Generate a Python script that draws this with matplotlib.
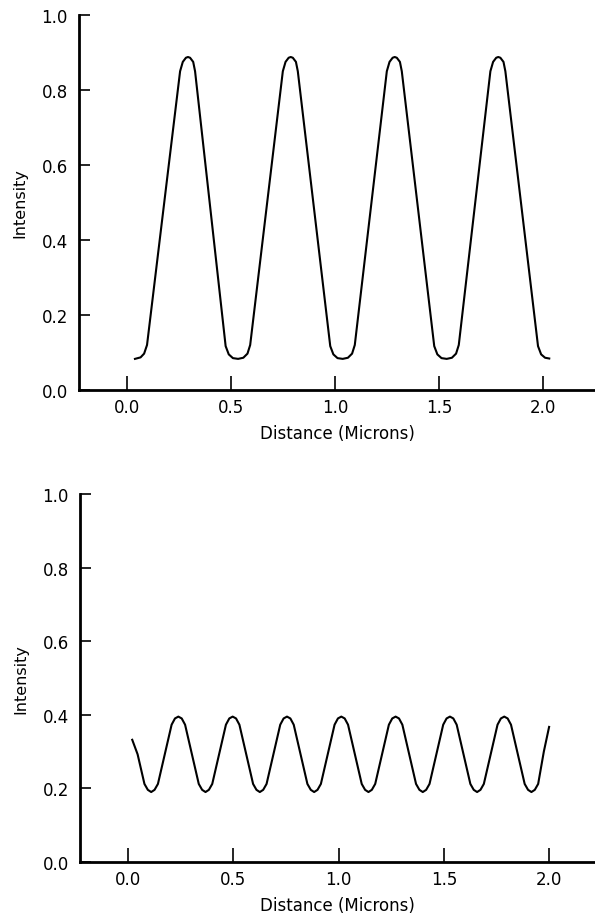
import matplotlib
matplotlib.use("Agg")
import matplotlib.pyplot as plt

# top panel: intensity profile, period ~0.5 micron
top_x = [0.038, 0.065, 0.082, 0.096,
         0.255, 0.268, 0.283, 0.293, 0.303, 0.318, 0.327,
         0.474, 0.489, 0.509, 0.534, 0.559, 0.579, 0.592,
         0.749, 0.762, 0.777, 0.787, 0.797, 0.812, 0.821,
         0.977, 0.992, 1.012, 1.037, 1.062, 1.082, 1.095,
         1.249, 1.262, 1.277, 1.287, 1.297, 1.312, 1.321,
         1.477, 1.492, 1.512, 1.537, 1.562, 1.582, 1.595,
         1.747, 1.760, 1.775, 1.785, 1.795, 1.810, 1.819,
         1.976, 1.991, 2.010, 2.030]
top_y = [0.083, 0.087, 0.097, 0.120,
         0.850, 0.875, 0.886, 0.888, 0.886, 0.875, 0.850,
         0.117, 0.095, 0.085, 0.083, 0.086, 0.097, 0.120,
         0.850, 0.875, 0.886, 0.888, 0.886, 0.875, 0.850,
         0.117, 0.095, 0.085, 0.083, 0.086, 0.097, 0.120,
         0.850, 0.875, 0.886, 0.888, 0.886, 0.875, 0.850,
         0.117, 0.095, 0.085, 0.083, 0.086, 0.097, 0.120,
         0.850, 0.875, 0.886, 0.888, 0.886, 0.875, 0.850,
         0.117, 0.095, 0.086, 0.084]

# bottom panel: weaker profile, period ~0.26 micron
bot_x = [0.020,
         0.0455, 0.078, 0.094, 0.110, 0.126, 0.142,
         0.1745, 0.207, 0.223, 0.239, 0.255, 0.271,
         0.3035, 0.336, 0.352, 0.368, 0.384, 0.400,
         0.4325, 0.465, 0.481, 0.497, 0.513, 0.529,
         0.5615, 0.594, 0.610, 0.626, 0.642, 0.658,
         0.6905, 0.723, 0.739, 0.755, 0.771, 0.787,
         0.8195, 0.852, 0.868, 0.884, 0.900, 0.916,
         0.9485, 0.981, 0.997, 1.013, 1.029, 1.045,
         1.0775, 1.110, 1.126, 1.142, 1.158, 1.174,
         1.2065, 1.239, 1.255, 1.271, 1.287, 1.303,
         1.3355, 1.368, 1.384, 1.400, 1.416, 1.432,
         1.4645, 1.497, 1.513, 1.529, 1.545, 1.561,
         1.5935, 1.626, 1.642, 1.658, 1.674, 1.690,
         1.7225, 1.755, 1.771, 1.787, 1.803, 1.819,
         1.8515, 1.884, 1.900, 1.916, 1.932, 1.948,
         1.975, 2.000]
bot_y = [0.332,
         0.2925, 0.212, 0.196, 0.190, 0.196, 0.212,
         0.2925, 0.373, 0.390, 0.395, 0.390, 0.373,
         0.2925, 0.212, 0.196, 0.190, 0.196, 0.212,
         0.2925, 0.373, 0.390, 0.395, 0.390, 0.373,
         0.2925, 0.212, 0.196, 0.190, 0.196, 0.212,
         0.2925, 0.373, 0.390, 0.395, 0.390, 0.373,
         0.2925, 0.212, 0.196, 0.190, 0.196, 0.212,
         0.2925, 0.373, 0.390, 0.395, 0.390, 0.373,
         0.2925, 0.212, 0.196, 0.190, 0.196, 0.212,
         0.2925, 0.373, 0.390, 0.395, 0.390, 0.373,
         0.2925, 0.212, 0.196, 0.190, 0.196, 0.212,
         0.2925, 0.373, 0.390, 0.395, 0.390, 0.373,
         0.2925, 0.212, 0.196, 0.190, 0.196, 0.212,
         0.2925, 0.373, 0.390, 0.395, 0.390, 0.373,
         0.2925, 0.212, 0.196, 0.190, 0.196, 0.212,
         0.300, 0.367]

x_ticks = [0.0, 0.5, 1.0, 1.5, 2.0]
y_ticks = [0.0, 0.2, 0.4, 0.6, 0.8, 1.0]


def style_axes(ax, xlim):
    ax.set_xlim(*xlim)
    ax.set_ylim(0, 1.0)
    for side in ("top", "right"):
        ax.spines[side].set_visible(False)
    for side in ("left", "bottom"):
        ax.spines[side].set_linewidth(2.0)
    ax.set_xticks(x_ticks)
    ax.set_xticklabels([f"{t:.1f}" for t in x_ticks])
    ax.set_yticks(y_ticks)
    ax.set_yticklabels([f"{t:.1f}" for t in y_ticks])
    ax.tick_params(axis="x", direction="in", length=10, width=1.2, pad=5.5, labelsize=12)
    ax.tick_params(axis="y", direction="in", length=8, width=1.2, pad=8, labelsize=12)
    ax.set_xlabel("Distance (Microns)", fontsize=12, labelpad=6)
    ax.set_ylabel("Intensity", fontsize=11.5)
    ax.yaxis.set_label_coords(-0.10, 0.5)


plt.rcParams["font.family"] = ["DejaVu Sans"]
fig = plt.figure(figsize=(5.95, 9.2), dpi=100)

ax1 = fig.add_axes([0.1328, 0.575, 0.8672, 0.4076])
ax1.plot(top_x, top_y, color="black", linewidth=1.5, solid_joinstyle="round")
style_axes(ax1, (-0.231, 2.25))

ax2 = fig.add_axes([0.1345, 0.062, 0.8655, 0.40])
ax2.plot(bot_x, bot_y, color="black", linewidth=1.5, solid_joinstyle="round")
style_axes(ax2, (-0.228, 2.218))

fig.savefig("out.png", dpi=100)
plt.close(fig)
